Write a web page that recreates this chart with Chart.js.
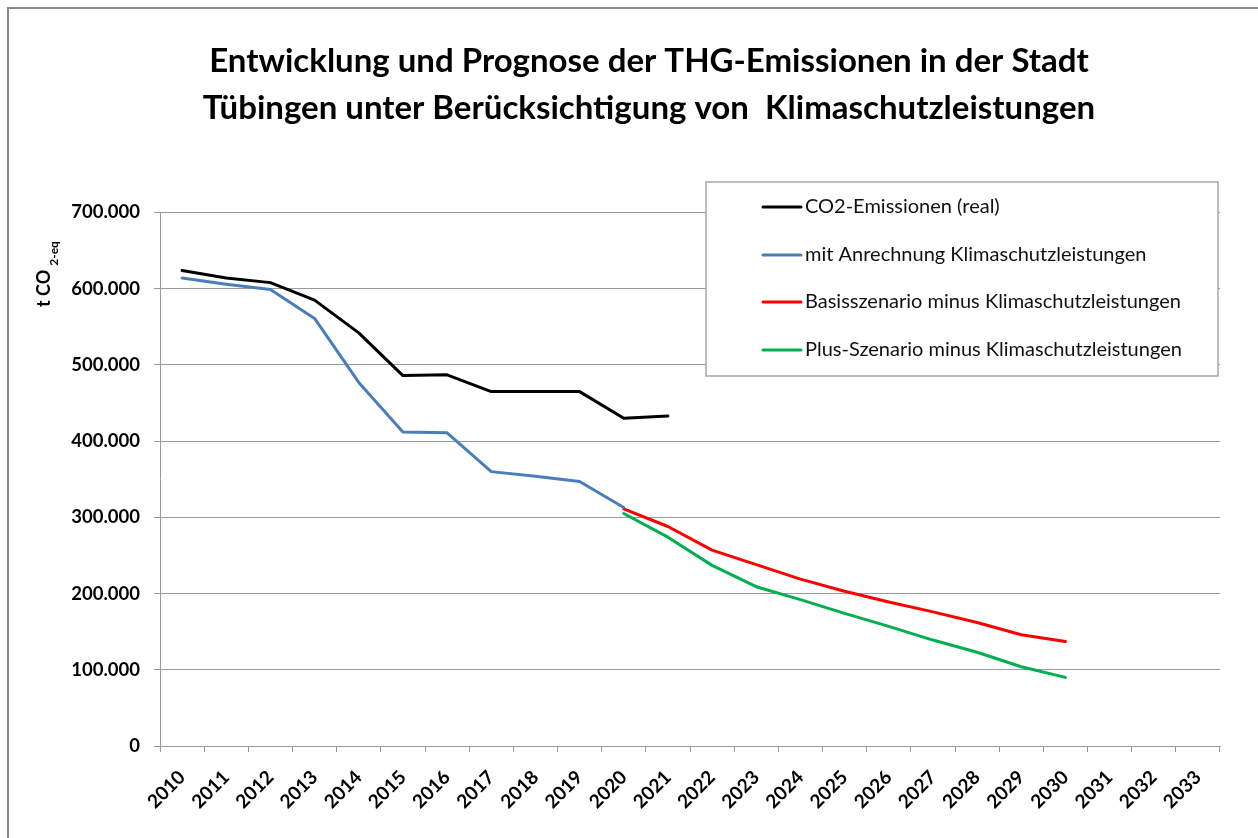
<!DOCTYPE html>
<html>
<head>
<meta charset="utf-8">
<script src="https://cdn.jsdelivr.net/npm/chart.js@4.4.1/dist/chart.umd.min.js"></script>
<style>
html,body{margin:0;padding:0;background:#fff;}
canvas{display:block;}
</style>
</head>
<body>
<canvas id="c" width="1258" height="838"></canvas>
<script>
// ---- Data ----
const years = ['2010','2011','2012','2013','2014','2015','2016','2017','2018','2019','2020','2021',
               '2022','2023','2024','2025','2026','2027','2028','2029','2030','2031','2032','2033'];
// CO2-Emissionen (real), 2010-2021
const co2Real = [624000, 614000, 608000, 585000, 542000, 486000, 487000, 465000, 465000, 465000, 430000, 433000];
// mit Anrechnung Klimaschutzleistungen, 2010-2020
const mitAnrechnung = [614000, 606000, 599000, 561000, 477000, 412000, 411000, 360000, 354000, 347000, 313000];
// Basisszenario minus Klimaschutzleistungen, 2020-2030
const basisSzenario = [311000, 288000, 257000, 238000, 219000, 203000, 189000, 176000, 162000, 146000, 137000];
// Plus-Szenario minus Klimaschutzleistungen, 2020-2030
const plusSzenario = [305000, 274000, 237000, 209000, 192000, 174000, 157000, 139000, 123000, 104000, 90000];
const yTicks = [0, 100000, 200000, 300000, 400000, 500000, 600000, 700000];

const seriesLabels = ['CO2-Emissionen (real)', 'mit Anrechnung Klimaschutzleistungen',
  'Basisszenario minus Klimaschutzleistungen', 'Plus-Szenario minus Klimaschutzleistungen'];
const seriesColors = ['#000000', '#4a7ebb', '#ff0000', '#00b050'];
const titleLines = ['Entwicklung und Prognose der THG-Emissionen in der Stadt',
                    'Tübingen unter Berücksichtigung von  Klimaschutzleistungen'];

// place a series on the year axis starting at a given year
function placeAt(startYear, values) {
  const start = years.indexOf(startYear);
  return years.map((y, i) => (i >= start && i - start < values.length) ? values[i - start] : null);
}

const FONT = 'Lato, "Open Sans", "Liberation Sans", sans-serif';
const GRID = '#9a9a9a';

function fmt(v) {
  return String(v).replace(/\B(?=(\d{3})+(?!\d))/g, '.');
}

const framePlugin = {
  id: 'frame',
  beforeDraw(chart) {
    const ctx = chart.ctx;
    ctx.save();
    ctx.fillStyle = '#fff';
    ctx.fillRect(0, 0, chart.width, chart.height);
    ctx.strokeStyle = '#898989';
    ctx.lineWidth = 2;
    ctx.strokeRect(8, 8, chart.width + 10, chart.height + 10);
    ctx.restore();
  }
};

const titlePlugin = {
  id: 'toptitle',
  afterDraw(chart) {
    const ctx = chart.ctx;
    ctx.save();
    ctx.fillStyle = '#000';
    ctx.font = 'bold 33px ' + FONT;
    ctx.textAlign = 'center';
    ctx.textBaseline = 'alphabetic';
    ctx.fillText(titleLines[0], 649, 72);
    ctx.fillText(titleLines[1], 649, 119);
    ctx.restore();
  }
};

const yTitlePlugin = {
  id: 'ytitle',
  afterDraw(chart) {
    const ctx = chart.ctx;
    ctx.save();
    ctx.translate(50, 307);
    ctx.rotate(-Math.PI / 2);
    ctx.fillStyle = '#000';
    ctx.textAlign = 'left';
    ctx.textBaseline = 'alphabetic';
    ctx.font = 'bold 18px ' + FONT;
    const main = 't CO';
    ctx.fillText(main, 0, 0);
    const w = ctx.measureText(main).width;
    ctx.font = 'bold 12px ' + FONT;
    ctx.fillText('2-eq', w + 4, 8);
    ctx.restore();
  }
};

const legendPlugin = {
  id: 'boxlegend',
  afterDraw(chart) {
    const ctx = chart.ctx;
    ctx.save();
    const x0 = 706, y0 = 182, x1 = 1218, y1 = 376;
    ctx.fillStyle = '#fff';
    ctx.fillRect(x0, y0, x1 - x0, y1 - y0);
    ctx.strokeStyle = '#a6a6a6';
    ctx.lineWidth = 1.5;
    ctx.strokeRect(x0, y0, x1 - x0, y1 - y0);
    const rows = [207, 255, 302, 350];
    chart.data.datasets.forEach((ds, i) => {
      const y = rows[i];
      ctx.strokeStyle = ds.borderColor;
      ctx.lineWidth = 3;
      ctx.lineCap = 'round';
      ctx.beginPath();
      ctx.moveTo(763, y);
      ctx.lineTo(801, y);
      ctx.stroke();
      ctx.fillStyle = '#111';
      ctx.font = '20px ' + FONT;
      ctx.textAlign = 'left';
      ctx.textBaseline = 'middle';
      ctx.fillText(ds.label, 805, y);
    });
    ctx.restore();
  }
};

const datasets = [
  placeAt('2010', co2Real),
  placeAt('2010', mitAnrechnung),
  placeAt('2020', basisSzenario),
  placeAt('2020', plusSzenario)
].map((d, i) => ({
  label: seriesLabels[i],
  data: d,
  borderColor: seriesColors[i],
  backgroundColor: seriesColors[i],
  borderWidth: 3,
  pointRadius: 0,
  pointHoverRadius: 0,
  tension: 0,
  spanGaps: false,
  borderCapStyle: 'round',
  borderJoinStyle: 'round',
  fill: false
}));

new Chart(document.getElementById('c'), {
  type: 'line',
  data: { labels: years, datasets },
  options: {
    responsive: false,
    animation: false,
    events: [],
    layout: { padding: { left: 0, right: 38, top: 212.5, bottom: 0 } },
    plugins: {
      legend: { display: false },
      tooltip: { enabled: false },
      title: { display: false }
    },
    scales: {
      x: {
        type: 'category',
        offset: true,
        grid: { display: true, drawOnChartArea: false, drawTicks: true, tickLength: 6, color: GRID, offset: true },
        border: { display: true, color: GRID, width: 1 },
        ticks: {
          autoSkip: false, maxRotation: 45, minRotation: 45,
          color: '#000', padding: 14,
          font: { family: FONT, size: 19, weight: 'bold' }
        },
        afterFit(scale) { scale.height = 92; }
      },
      y: {
        min: 0, max: 700000,
        afterBuildTicks(scale) { scale.ticks = yTicks.map(v => ({ value: v })); },
        grid: { color: GRID, tickLength: 6, drawTicks: true },
        border: { display: true, color: GRID, width: 1 },
        ticks: {
          color: '#000', padding: 14,
          font: { family: FONT, size: 18.5, weight: 'bold' },
          callback: (v) => fmt(v)
        },
        afterFit(scale) { scale.width = 160; }
      }
    }
  },
  plugins: [framePlugin, titlePlugin, yTitlePlugin, legendPlugin]
});
</script>
</body>
</html>
